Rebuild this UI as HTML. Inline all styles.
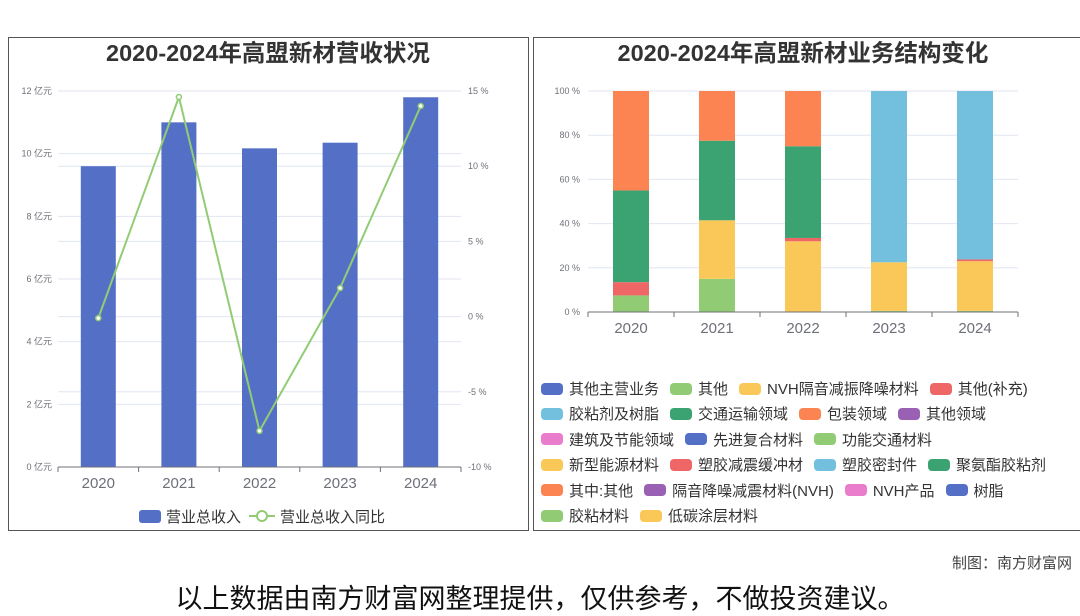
<!DOCTYPE html>
<html><head><meta charset="utf-8"><style>
html,body{margin:0;padding:0;background:#fff;}
body{width:1080px;height:614px;position:relative;overflow:hidden;font-family:"Liberation Sans","Noto Sans CJK SC",sans-serif;}
.panel{position:absolute;border:1px solid #555;box-sizing:border-box;background:#fff;}
.lg{position:absolute;left:6px;display:flex;align-items:center;font-size:15px;color:#333;white-space:nowrap;}
.sw{display:inline-block;width:22px;height:12px;border-radius:4px;margin-right:6px;}
.it{display:flex;align-items:center;margin-right:11px;}
</style></head><body>
<div class="panel" style="left:8px;top:37px;width:521px;height:494px;"></div>
<div class="panel" style="left:533px;top:37px;width:548px;height:494px;"></div>
<svg id="c1" width="1080" height="614" style="position:absolute;left:0;top:0"></svg>
<div id="legend2" style="position:absolute;left:535px;top:378px;width:545px;height:150px;"></div>
<div style="position:absolute;right:8px;top:552px;font-size:15px;color:#444;">制图：南方财富网</div>
<div style="position:absolute;left:0;width:1080px;top:577px;text-align:center;font-size:27px;color:#111;">以上数据由南方财富网整理提供，仅供参考，不做投资建议。</div>
<script>
const years=["2020","2021","2022","2023","2024"];
const revenue=[9.6,11.0,10.17,10.35,11.8];
const growth=[-0.1,14.6,-7.6,1.9,14.0];
const revTicks=[0,2,4,6,8,10,12];
const pctTicks=[-10,-5,0,5,10,15];
const segColors=["#91cc75","#fac858","#ee6666","#3ba272","#73c0de","#fc8452"];
const segOther=[7.5,15,0,0.5,0.5];
const segNVH=[0,26.5,32,22,22.5];
const segOtherSup=[6,0,1.5,0,0.8];
const segTraffic=[41.5,36,41.5,0,0];
const segAdhesive=[0,0,0,77.5,76.2];
const segPack=[45,22.5,25,0,0];
const shareTicks=[0,20,40,60,80,100];
const legendRows=[
 [["其他主营业务","#5470c6"],["其他","#91cc75"],["NVH隔音减振降噪材料","#fac858"],["其他(补充)","#ee6666"]],
 [["胶粘剂及树脂","#73c0de"],["交通运输领域","#3ba272"],["包装领域","#fc8452"],["其他领域","#9a60b4"]],
 [["建筑及节能领域","#ea7ccc"],["先进复合材料","#5470c6"],["功能交通材料","#91cc75"]],
 [["新型能源材料","#fac858"],["塑胶减震缓冲材","#ee6666"],["塑胶密封件","#73c0de"],["聚氨酯胶粘剂","#3ba272"]],
 [["其中:其他","#fc8452"],["隔音降噪减震材料(NVH)","#9a60b4"],["NVH产品","#ea7ccc"],["树脂","#5470c6"]],
 [["胶粘材料","#91cc75"],["低碳涂层材料","#fac858"]]
];
const NS="http://www.w3.org/2000/svg";
const svg=document.getElementById('c1');
function el(tag,attrs,parent){const e=document.createElementNS(NS,tag);for(const k in attrs)e.setAttribute(k,attrs[k]);(parent||svg).appendChild(e);return e;}
function txt(s,attrs){const t=el('text',attrs);t.textContent=s;return t;}
let t=txt("2020-2024年高盟新材营收状况",{x:268,y:61,"text-anchor":"middle","font-size":23.5,"font-weight":"bold",fill:"#333"});


t=txt("2020-2024年高盟新材业务结构变化",{x:803,y:61,"text-anchor":"middle","font-size":23.5,"font-weight":"bold",fill:"#333"});


const L1=58,R1=461,T1=91,B1=467;
const bw1=(R1-L1)/years.length;
const xc1=i=>L1+bw1*(i+0.5);
const yRev=v=>B1-(v/12)*(B1-T1);
const yPct=v=>B1-((v+10)/25)*(B1-T1);
revTicks.forEach(v=>{
 const g=el('line',{x1:L1,x2:R1,y1:yRev(v),y2:yRev(v),stroke:"#e0e6f1"});
 
 
 const l=txt(v+" 亿元",{x:52,y:yRev(v)+3,"text-anchor":"end","font-size":9,fill:"#6e7079"});
 
 
});
pctTicks.forEach(v=>{
 const g=el('line',{x1:L1,x2:R1,y1:yPct(v),y2:yPct(v),stroke:"#e0e6f1"});
 
 
 const l=txt(v+" %",{x:468,y:yPct(v)+3,"font-size":9,fill:"#6e7079"});
 
 
});
years.forEach((y,i)=>{
 const b=el('rect',{x:xc1(i)-17.5,y:yRev(revenue[i]),width:35,height:B1-yRev(revenue[i]),fill:"#5470c6"});
 
 
 const l=txt(y,{x:xc1(i),y:488,"text-anchor":"middle","font-size":15,fill:"#6e7079"});
 
 
});
let ax=el('line',{x1:L1,x2:R1,y1:B1,y2:B1,stroke:"#6e7079"});


for(let i=0;i<=years.length;i++){const tk=el('line',{x1:L1+bw1*i,x2:L1+bw1*i,y1:B1,y2:B1+5,stroke:"#6e7079"});}
const pl=el('polyline',{points:growth.map((v,i)=>xc1(i)+","+yPct(v)).join(" "),fill:"none",stroke:"#91cc75","stroke-width":2});


growth.forEach((v,i)=>{const c=el('circle',{cx:xc1(i),cy:yPct(v),r:2.5,fill:"#fff",stroke:"#91cc75","stroke-width":1.5});});
let r=el('rect',{x:139,y:510,width:22,height:13,rx:3,fill:"#5470c6"});


t=txt("营业总收入",{x:166,y:522,"font-size":15,fill:"#333"});


let ll=el('line',{x1:249,x2:275,y1:516,y2:516,stroke:"#91cc75","stroke-width":2});


let lc=el('circle',{cx:262,cy:516,r:5,fill:"#fff",stroke:"#91cc75","stroke-width":2});


t=txt("营业总收入同比",{x:280,y:522,"font-size":15,fill:"#333"});


const L2=588,R2=1018,T2=91,B2=312;
const bw2=(R2-L2)/years.length;
const xc2=i=>L2+bw2*(i+0.5);
const yS=v=>B2-(v/100)*(B2-T2);
shareTicks.forEach(v=>{
 const g=el('line',{x1:L2,x2:R2,y1:yS(v),y2:yS(v),stroke:"#e0e6f1"});
 
 
 const l=txt(v+" %",{x:580,y:yS(v)+3,"text-anchor":"end","font-size":9,fill:"#6e7079"});
 
 
});
const segs=[segOther,segNVH,segOtherSup,segTraffic,segAdhesive,segPack];
years.forEach((y,i)=>{
 let acc=0;
 segs.forEach((s,k)=>{
  const v=s[i]; if(v<=0)return;
  const b=el('rect',{x:xc2(i)-18,y:yS(acc+v),width:36,height:yS(acc)-yS(acc+v),fill:segColors[k]});
  
  
  acc+=v;
 });
 const l=txt(y,{x:xc2(i),y:333,"text-anchor":"middle","font-size":15,fill:"#6e7079"});
 
 
});
ax=el('line',{x1:L2,x2:R2,y1:B2,y2:B2,stroke:"#6e7079"});


for(let i=0;i<=years.length;i++){const tk=el('line',{x1:L2+bw2*i,x2:L2+bw2*i,y1:B2,y2:B2+5,stroke:"#6e7079"});}
const lg=document.getElementById('legend2');
legendRows.forEach((row,ri)=>{
 const d=document.createElement('div');d.className='lg';d.style.top=(ri*25.4)+'px';
 
 
 row.forEach(([n,c])=>{
  const it=document.createElement('span');it.className='it';
  
  
  it.innerHTML='<span class="sw" style="background:'+c+'"></span>'+n;
  d.appendChild(it);
 });
 lg.appendChild(d);
});
</script>
</body></html>
